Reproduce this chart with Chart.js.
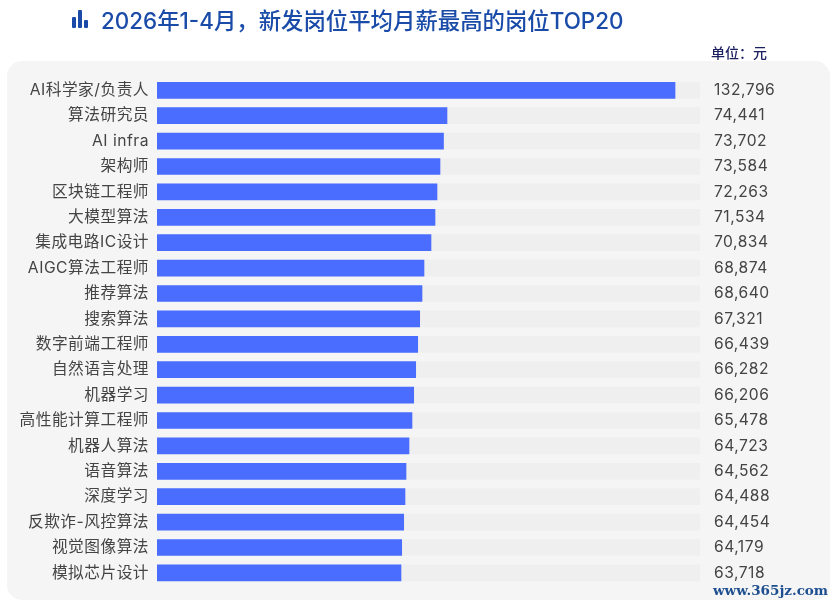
<!DOCTYPE html>
<html>
<head>
<meta charset="utf-8">
<script src="https://cdn.jsdelivr.net/npm/chart.js@4"></script>
<style>
    html, body { margin: 0; padding: 0; background: #fff; }
    body { width: 836px; height: 605px; position: relative; overflow: hidden; font-family: "Inter", "Noto Sans CJK SC", sans-serif; }
    #panel { position: absolute; left: 7px; top: 61px; width: 823px; height: 539px; background: #f5f5f5; border-radius: 15px; }
    #wrap { position: absolute; left: 0; top: 0; width: 836px; height: 605px; }
    #icon { position: absolute; left: 72px; top: 10px; width: 17px; height: 18px; }
    #icon i { position: absolute; bottom: 0; width: 4px; background: #1a4ba8; border-radius: 1px; }
    #title { position: absolute; left: 101px; top: 6px; font-size: 22.4px; line-height: 30px; color: #1a4ba8; font-weight: 500; white-space: nowrap; }
    #unit { position: absolute; left: 711px; top: 44px; font-size: 14px; line-height: 18px; color: #1b2060; font-weight: 500; white-space: nowrap; }
    #mark { position: absolute; left: 713px; top: 581px; font-family: "DejaVu Serif", serif; font-size: 13.5px; line-height: 18px; font-weight: bold; color: #1d4e8f; white-space: nowrap; }
</style>
</head>
<body>
<div id="panel"></div>
<div id="wrap"><canvas id="myChart" width="836" height="605"></canvas></div>
<div id="icon"><i style="left:0;height:11px"></i><i style="left:6px;height:18px"></i><i style="left:12px;height:8px"></i></div>
<div id="title">2026年1-4月，新发岗位平均月薪最高的岗位TOP20</div>
<div id="unit">单位：元</div>
<div id="mark">www.365jz.com</div>
<script>
const labels = ["AI科学家/负责人", "算法研究员", "AI infra", "架构师", "区块链工程师", "大模型算法", "集成电路IC设计", "AIGC算法工程师", "推荐算法", "搜索算法", "数字前端工程师", "自然语言处理", "机器学习", "高性能计算工程师", "机器人算法", "语音算法", "深度学习", "反欺诈-风控算法", "视觉图像算法", "模拟芯片设计"];
// printed numbers
const salary = [132796, 74441, 73702, 73584, 72263, 71534, 70834, 68874, 68640, 67321, 66439, 66282, 66206, 65478, 64723, 64562, 64488, 64454, 64179, 63718];
// bar lengths, they run a bit short of the printed numbers lower down
const barValues = [132796, 74342, 73444, 72547, 71778, 71265, 70240, 68445, 67933, 67343, 66831, 66318, 65806, 65369, 64600, 63831, 63575, 63242, 62730, 62549];
const trackMax = 139200;
const track = salary.map(function () { return trackMax; });
const valueLabels = salary.map(function (v) { return v.toLocaleString('en-US'); });

const spacing = {
    id: 'spacing',
    beforeDraw: function (chart) { chart.ctx.letterSpacing = '0.5px'; }
};

var myChart = new Chart(document.getElementById('myChart'), {
    type: 'bar',
    data: {
        labels: labels,
        datasets: [{
            data: barValues,
            backgroundColor: '#4a6cff',
            barThickness: 16,
            order: 1
        }, {
            data: track,
            backgroundColor: '#efefef',
            barThickness: 16,
            order: 2
        }]
    },
    options: {
        indexAxis: 'y',
        responsive: false,
        animation: false,
        layout: { padding: { top: 77.6, bottom: 19.4, left: 0, right: 0 } },
        datasets: { bar: { grouped: false } },
        plugins: { legend: { display: false }, tooltip: { enabled: false } },
        scales: {
            x: { display: false, min: 0, max: trackMax },
            y: {
                position: 'left',
                grid: { display: false },
                border: { display: false },
                afterFit: function (axis) { axis.width = 157; },
                ticks: {
                    autoSkip: false,
                    padding: 0,
                    color: '#444444',
                    font: { family: '"Inter", "Noto Sans CJK SC"', size: 15.7 }
                }
            },
            y2: {
                position: 'right',
                type: 'category',
                labels: valueLabels,
                offset: true,
                grid: { display: false },
                border: { display: false },
                afterFit: function (axis) { axis.width = 136; },
                ticks: {
                    autoSkip: false,
                    padding: 6,
                    color: '#444444',
                    font: { family: '"Inter"', size: 15.6 }
                }
            }
        }
    },
    plugins: [spacing]
});
</script>
</body>
</html>
